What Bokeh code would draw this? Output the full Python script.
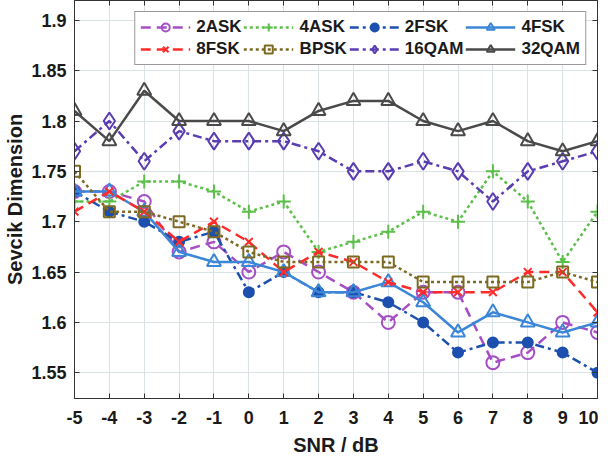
from bokeh.plotting import figure
from bokeh.models import LinearAxis, Range1d, Legend, LegendItem, FixedTicker
from bokeh.embed import file_html
from bokeh.resources import INLINE

snr = [-5, -4, -3, -2, -1, 0, 1, 2, 3, 4, 5, 6, 7, 8, 9, 10]
ask2 = [1.73, 1.73, 1.72, 1.67, 1.68, 1.65, 1.67, 1.65, 1.63, 1.60, 1.63, 1.63, 1.56, 1.57, 1.60, 1.59]
ask4 = [1.72, 1.72, 1.74, 1.74, 1.73, 1.71, 1.72, 1.67, 1.68, 1.69, 1.71, 1.70, 1.75, 1.72, 1.66, 1.71]
fsk2 = [1.73, 1.71, 1.70, 1.68, 1.69, 1.63, 1.65, 1.63, 1.63, 1.62, 1.60, 1.57, 1.58, 1.58, 1.57, 1.55]
fsk4 = [1.73, 1.73, 1.71, 1.67, 1.66, 1.66, 1.65, 1.63, 1.63, 1.64, 1.62, 1.59, 1.61, 1.60, 1.59, 1.60]
fsk8 = [1.71, 1.73, 1.71, 1.68, 1.70, 1.68, 1.65, 1.67, 1.66, 1.64, 1.63, 1.63, 1.63, 1.65, 1.65, 1.61]
bpsk = [1.75, 1.71, 1.71, 1.70, 1.69, 1.67, 1.66, 1.66, 1.66, 1.66, 1.64, 1.64, 1.64, 1.64, 1.65, 1.64]
qam16 = [1.77, 1.80, 1.76, 1.79, 1.78, 1.78, 1.78, 1.77, 1.75, 1.75, 1.76, 1.75, 1.72, 1.75, 1.76, 1.77]
qam32 = [1.81, 1.78, 1.83, 1.80, 1.80, 1.80, 1.79, 1.81, 1.82, 1.82, 1.80, 1.79, 1.80, 1.78, 1.77, 1.78]

x_ticks = list(range(-5, 11))
x_tick_labels = {t: str(t) for t in x_ticks}
y_ticks = [1.55, 1.6, 1.65, 1.7, 1.75, 1.8, 1.85, 1.9]
y_tick_labels = {1.55: "1.55", 1.6: "1.6", 1.65: "1.65", 1.7: "1.7", 1.75: "1.75", 1.8: "1.8", 1.85: "1.85", 1.9: "1.9"}

FONT = "Liberation Sans"

p = figure(width=598, height=458, output_backend="svg", toolbar_location=None,
           x_range=Range1d(-5, 10), y_range=Range1d(1.5244, 1.9197),
           min_border_left=74, min_border_right=1, min_border_top=0, min_border_bottom=57)
p.background_fill_color = "white"
p.border_fill_color = "white"
p.outline_line_color = "#333333"
p.outline_line_width = 1

p.xgrid.ticker = FixedTicker(ticks=x_ticks)
p.ygrid.ticker = FixedTicker(ticks=y_ticks)
p.xgrid.grid_line_color = "#dbe2e6"
p.ygrid.grid_line_color = "#dbe2e6"

for ax in p.xaxis:
    ax.ticker = FixedTicker(ticks=x_ticks)
    ax.major_label_overrides = x_tick_labels
    ax.axis_label = "SNR / dB"
for ax in p.yaxis:
    ax.ticker = FixedTicker(ticks=y_ticks)
    ax.major_label_overrides = y_tick_labels
    ax.axis_label = "Sevcik Dimension"

for ax in list(p.xaxis) + list(p.yaxis):
    ax.major_label_text_font = FONT
    ax.major_label_text_font_style = "bold"
    ax.major_label_text_font_size = "18px"
    ax.major_label_text_color = "#1a1a1a"
    ax.axis_label_text_font = FONT
    ax.axis_label_text_font_style = "bold"
    ax.axis_label_text_font_size = "20px"
    ax.axis_label_text_color = "#1a1a1a"
    ax.major_tick_in = 5
    ax.major_tick_out = 0
    ax.minor_tick_in = 0
    ax.minor_tick_out = 0
    ax.axis_line_color = "#333333"
    ax.major_tick_line_color = "#333333"
p.xaxis.major_label_standoff = 12
p.xaxis.axis_label_standoff = 7
p.yaxis.major_label_standoff = 8
p.yaxis.axis_label_standoff = 2

for loc, tk in (("right", y_ticks), ("above", x_ticks)):
    ax = LinearAxis(ticker=FixedTicker(ticks=tk))
    ax.major_label_text_font_size = "1px"
    ax.major_label_text_color = None
    ax.major_label_standoff = 0
    ax.major_tick_in = 5
    ax.major_tick_out = 0
    ax.minor_tick_in = 0
    ax.minor_tick_out = 0
    ax.axis_line_color = "#333333"
    ax.major_tick_line_color = "#333333"
    p.add_layout(ax, loc)

series = [
    ("2ASK", ask2, "#a64fc4", "10 6", "circle", 13, False),
    ("4ASK", ask4, "#5cbf4a", "3 3", "cross", 14, False),
    ("2FSK", fsk2, "#1c4fae", "9 4 3 4", "circle", 10, True),
    ("4FSK", fsk4, "#3b86d6", "solid", "triangle", 14, False),
    ("8FSK", fsk8, "#ff2b2b", "10 6", "x", 11, False),
    ("BPSK", bpsk, "#7d6a22", "3 3", "square", 11, False),
    ("16QAM", qam16, "#5b3db2", "9 4 3 4", "diamond", 17, False),
    ("32QAM", qam32, "#4a4a4a", "solid", "triangle", 14, False),
]

items = {}
for name, ys, color, dash, marker, size, filled in series:
    r1 = p.line(snr, ys, line_color=color, line_width=2.5, line_dash=dash)
    r2 = p.scatter(snr, ys, marker=marker, size=size, line_color=color, line_width=2,
                   fill_color=color if filled else None)
    items[name] = LegendItem(label=name, renderers=[r1, r2])

legend_order = ["2ASK", "8FSK", "4ASK", "BPSK", "2FSK", "16QAM", "4FSK", "32QAM"]
legend = Legend(items=[items[n] for n in legend_order], ncols=4, location="top_right", margin=11,
                label_text_font=FONT, label_text_font_style="bold",
                label_text_font_size="17px", label_text_color="#1a1a1a",
                glyph_width=50, glyph_height=20, label_height=20,
                spacing=2, padding=5, label_standoff=6,
                border_line_color="#333333", border_line_width=1,
                background_fill_alpha=1.0)
p.add_layout(legend, "center")

open("out.html", "w").write(file_html(p, INLINE))
